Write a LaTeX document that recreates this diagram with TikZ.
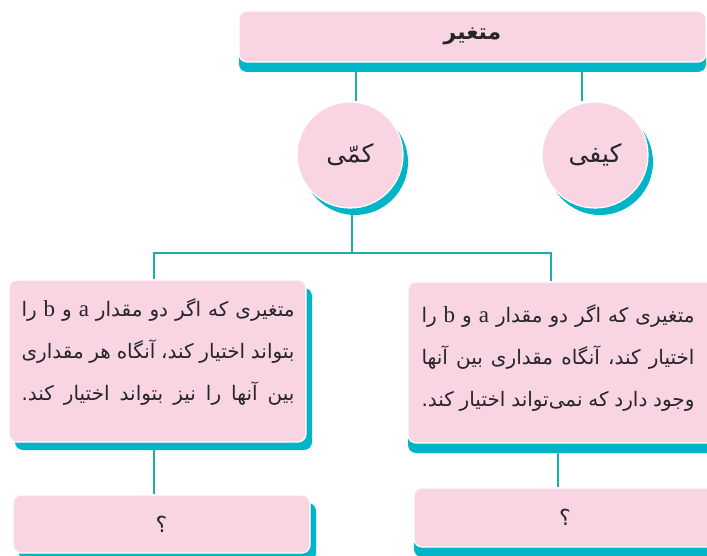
\documentclass[tikz,border=0pt]{standalone}
\usepackage{fontspec}
\usetikzlibrary{shadows,backgrounds}
\TeXXeTstate=1
\newfontfamily\arabicfont[Script=Arabic]{DejaVu Sans}
\newfontfamily\latinf{Liberation Serif}
\definecolor{pinkf}{HTML}{F9D5E3}
\definecolor{shad}{HTML}{00B5C8}
\definecolor{linec}{HTML}{1AB0A8}
\newcommand{\rline}[1]{\hbox to 273pt{\beginR #1\endR}}
\newcommand{\lat}[1]{{\latinf\fontsize{23}{27}\selectfont #1}}
\begin{document}
\begin{tikzpicture}[x=1pt,y=-1pt,
  box/.style={draw=white, line width=1.2pt, fill=pinkf, rounded corners=8pt, inner sep=0pt, text=black!85},
  shR/.style={general shadow={fill=shad, shadow xshift=6pt, shadow yshift=-8pt}},
  shD/.style={general shadow={fill=shad, shadow xshift=0pt, shadow yshift=-10pt}},
  shC/.style={general shadow={fill=shad, shadow xshift=5pt, shadow yshift=-7pt}},
  circ/.style={circle, draw=white, line width=1.2pt, fill=pinkf, minimum size=106pt, inner sep=0pt, text=black!85, font=\arabicfont\fontsize{25}{30}\selectfont},
  conn/.style={draw=linec, line width=1.3pt},
  body/.style={inner sep=0pt, text=black!85, font=\arabicfont\fontsize{20}{24}\selectfont},
  qm/.style={font=\arabicfont\fontsize{22}{26}\selectfont}
]
\useasboundingbox (0,0) rectangle (707,556);
\node[box, shD, minimum width=467pt, minimum height=51pt, font=\arabicfont\bfseries\fontsize{22}{26}\selectfont] (top) at (472.5,36.5) {\beginR متغیر\endR};
\node[circ, shC] (kammi) at (350,155) {\beginR کمّی\endR};
\node[circ, shC] (keyfi) at (595,155) {\beginR کیفی\endR};
\node[box, shR, minimum width=297pt, minimum height=162pt] (lbox) at (157.5,361) {};
\node[box, shD, minimum width=308pt, minimum height=161pt] (rbox) at (562,362.5) {};
\node[box, shR, minimum width=297pt, minimum height=58pt, qm] (lq) at (161.5,524) {؟};
\node[box, shD, minimum width=302pt, minimum height=59pt, qm] (rq) at (565,517.5) {؟};
\node[body] (ltext) at (158,352) {\vbox{\baselineskip=42pt
  \rline{متغیری که اگر دو مقدار \lat{a} و \lat{b} را}
  \rline{بتواند اختیار کند، آنگاه هر مقداری}
  \rline{بین آنها را نیز بتواند اختیار کند.}}};
\node[body] (rtext) at (558,358) {\vbox{\baselineskip=42pt
  \rline{متغیری که اگر دو مقدار \lat{a} و \lat{b} را}
  \rline{اختیار کند، آنگاه مقداری بین آنها}
  \rline{وجود دارد که نمی‌تواند اختیار کند.}}};
\coordinate (hub) at (352,253);
\begin{scope}[on background layer]
\draw[conn] ([xshift=6pt]kammi.north |- top.south) -- ([xshift=6pt]kammi.north);
\draw[conn] ([xshift=-13pt]keyfi.north |- top.south) -- ([xshift=-13pt]keyfi.north);
\draw[conn] ([xshift=2pt]kammi.south) -- ([xshift=2pt]kammi.south |- hub);
\draw[conn] ([xshift=-3.5pt]lbox.north) |- (hub) -| ([xshift=-11pt]rbox.north);
\draw[conn] ([xshift=-3.5pt]lbox.south) -- ([xshift=-3.5pt]lbox.south |- lq.north);
\draw[conn] ([xshift=-4pt]rbox.south) -- ([xshift=-4pt]rbox.south |- rq.north);
\end{scope}
\end{tikzpicture}
\end{document}
